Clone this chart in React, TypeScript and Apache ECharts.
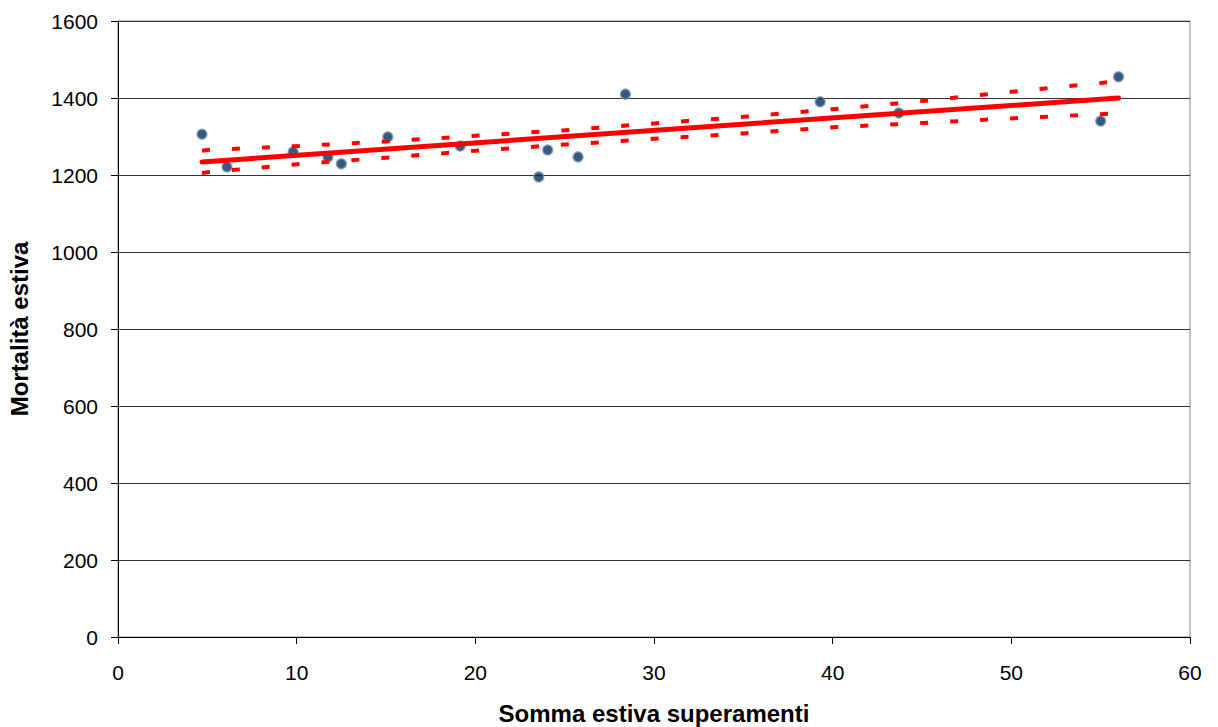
import React, { useEffect, useRef } from "react";
import * as echarts from "echarts";

// Observed data: summed summer exceedances vs summer mortality
const obsX = [4.7, 6.1, 9.8, 11.75, 12.5, 15.1, 19.15, 23.55, 24.05, 25.75, 28.4, 39.3, 43.7, 55.0, 56.0];
const obsY = [1306, 1221, 1260, 1247, 1229, 1299, 1275, 1195, 1265, 1247, 1410, 1390, 1361, 1340, 1455];

// Regression line end points
const fitX = [4.7, 56.0];
const fitY = [1234, 1400];

// Confidence band
const bandX = [4.7, 5, 10, 15, 20, 25, 30, 35, 40, 45, 50, 55, 56];
const bandUpper = [1263, 1265, 1275, 1287, 1302, 1316, 1334, 1351, 1371, 1392, 1416, 1439, 1444];
const bandLower = [1205, 1207, 1228, 1245, 1263, 1279, 1294, 1308, 1324, 1335, 1347, 1358, 1360];

const xTicks = [0, 10, 20, 30, 40, 50, 60];
const yTicks = [0, 200, 400, 600, 800, 1000, 1200, 1400, 1600];

const xTitle = "Somma estiva superamenti";
const yTitle = "Mortalità estiva";

export default function App() {
  const ref = useRef<HTMLDivElement>(null);
  useEffect(() => {
    if (!ref.current) return;
    const chart = echarts.init(ref.current, null, { renderer: "svg" });
    const font = "'Liberation Sans', Arial, sans-serif";
    const zip = (xs: number[], ys: number[]) => xs.map((x, i) => [x, ys[i]]);
    chart.setOption({
      animation: false,
      backgroundColor: "#ffffff",
      grid: {
        left: 118,
        right: 28,
        top: 21,
        bottom: 90,
        outerBoundsMode: "none",
        containLabel: false,
        show: true,
        borderColor: "#888888",
        borderWidth: 1,
        backgroundColor: "transparent",
      },
      xAxis: {
        type: "value",
        min: xTicks[0],
        max: xTicks[xTicks.length - 1],
        interval: 10,
        name: xTitle,
        nameLocation: "middle",
        nameGap: 64,
        nameTextStyle: { fontFamily: font, fontSize: 24, fontWeight: "bold", color: "#000" },
        axisLine: { show: true, lineStyle: { color: "#000", width: 1 } },
        axisTick: { show: true, length: 7, lineStyle: { color: "#000" } },
        axisLabel: { fontFamily: font, fontSize: 21, color: "#000", margin: 25, formatter: (v: number) => String(v) },
        splitLine: { show: false },
      },
      yAxis: {
        type: "value",
        min: yTicks[0],
        max: yTicks[yTicks.length - 1],
        interval: 200,
        name: yTitle,
        nameLocation: "middle",
        nameGap: 87,
        nameRotate: 90,
        nameTextStyle: { fontFamily: font, fontSize: 24, fontWeight: "bold", color: "#000" },
        axisLine: { show: true, lineStyle: { color: "#000", width: 1 } },
        axisTick: { show: true, length: 7, lineStyle: { color: "#000" } },
        axisLabel: { fontFamily: font, fontSize: 21, color: "#000", margin: 20, formatter: (v: number) => String(v) },
        splitLine: { show: true, lineStyle: { color: "#333", width: 1 } },
      },
      series: [
        {
          type: "scatter",
          data: zip(obsX, obsY),
          symbol: "circle",
          symbolSize: 10,
          itemStyle: { color: "#003366", borderColor: "#8a96a3", borderWidth: 1.5 },
          z: 2,
        },
        {
          type: "line",
          data: zip(bandX, bandUpper),
          showSymbol: false,
          symbol: "none",
          lineStyle: { color: "#ff0000", width: 4, type: [8, 22] },
          z: 3,
        },
        {
          type: "line",
          data: zip(bandX, bandLower),
          showSymbol: false,
          symbol: "none",
          lineStyle: { color: "#ff0000", width: 4, type: [8, 22] },
          z: 3,
        },
        {
          type: "line",
          data: zip(fitX, fitY),
          showSymbol: false,
          symbol: "none",
          lineStyle: { color: "#ff0000", width: 5, cap: "round" },
          z: 4,
        },
      ],
    });
    return () => chart.dispose();
  }, []);
  return (
    <div
      ref={ref}
      style={{ position: "absolute", left: 0, top: 0, width: 1218, height: 727 }}
    />
  );
}
